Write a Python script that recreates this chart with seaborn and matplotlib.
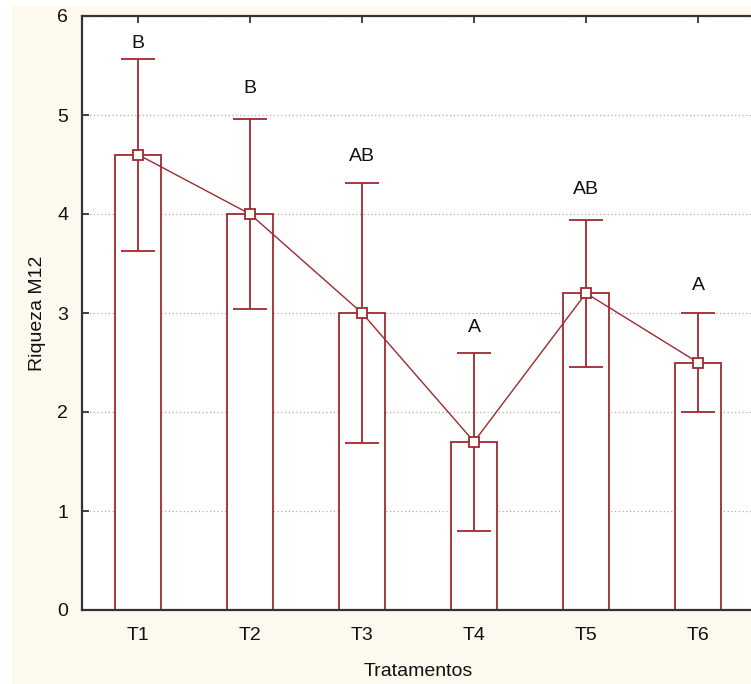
import matplotlib
matplotlib.use("Agg")
import matplotlib.pyplot as plt
import seaborn as sns
import pandas as pd
import numpy as np
from matplotlib.patches import Rectangle

categories = ["T1", "T2", "T3", "T4", "T5", "T6"]
means = [4.6, 4.0, 3.0, 1.7, 3.2, 2.5]
lower = [3.63, 3.04, 1.69, 0.80, 2.45, 2.00]
upper = [5.57, 4.96, 4.31, 2.60, 3.94, 3.00]
letters = ["B", "B", "AB", "A", "AB", "A"]
letter_y = [5.72, 5.27, 4.58, 2.85, 4.25, 3.28]

sns.set_theme(style="white")
plt.rcParams['font.family'] = ['Liberation Sans', 'DejaVu Sans']

red = "#9E2A2E"
fs = 14
df = pd.DataFrame({"Tratamento": categories, "Riqueza": means})

fig = plt.figure(figsize=(7.51, 6.84), dpi=100, facecolor="white")
fig.patches.append(Rectangle((12/751, 0), 1, 1 - 6/684, transform=fig.transFigure,
                             facecolor="#FEF9EF", edgecolor="none", zorder=-10))
ax = fig.add_axes([82/751, 74/684, 672/751, 594/684])
ax.set_facecolor("white")

sns.barplot(data=df, x="Tratamento", y="Riqueza", ax=ax, width=0.41,
            color="white", edgecolor=red, linewidth=1.3, errorbar=None, zorder=2)

x = np.arange(len(categories))
m = np.array(means)
yerr = np.vstack([m - np.array(lower), np.array(upper) - m])
ax.errorbar(x, m, yerr=yerr, fmt="none", ecolor=red, elinewidth=1.3,
            capsize=12, capthick=1.3, zorder=3)
ax.plot(x, m, color=red, lw=1.0, zorder=4)
ax.plot(x, m, ls="none", marker="s", ms=7.5, mfc="white", mec=red, mew=1.3, zorder=5)

for xi, lab, ly in zip(x, letters, letter_y):
    ax.text(xi, ly, lab, ha="center", va="center", fontsize=fs, color="#111111")

ax.set_xlim(-0.5, 5.5)
ax.set_ylim(0, 6)
ax.set_yticks(range(7))
ax.yaxis.grid(True, linestyle=(0, (1, 2)), color="#AAAAAA", lw=0.9, zorder=0)
ax.set_axisbelow(True)
ax.tick_params(axis="both", direction="in", length=5, width=1.2, color="#222222",
               labelsize=fs, labelcolor="#111111", top=True, left=True, bottom=True, right=False)
ax.tick_params(axis="x", pad=12)
ax.tick_params(axis="y", pad=10)
for s in ax.spines.values():
    s.set_color("#333333")
    s.set_linewidth(1.6)

ax.set_xlabel("Tratamentos", fontsize=fs, color="#111111", labelpad=14)
ax.set_ylabel("Riqueza M12", fontsize=fs, color="#111111", labelpad=8)

fig.savefig("out.png", dpi=100, facecolor=fig.get_facecolor())
